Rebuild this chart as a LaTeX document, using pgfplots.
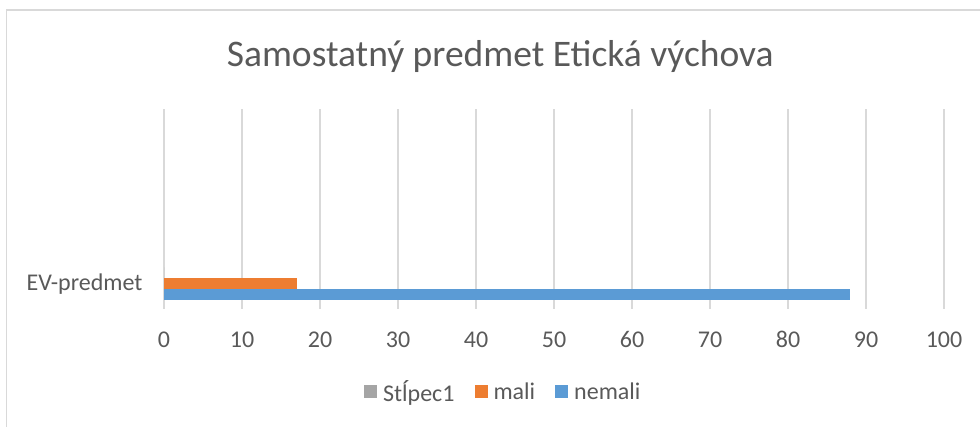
\documentclass[border=0pt]{standalone}
\usepackage{fontspec}
\setmainfont{Carlito}
\usepackage{pgfplots}
\pgfplotsset{compat=1.18}
\definecolor{txt}{RGB}{89,89,89}
\definecolor{gridc}{RGB}{217,217,217}
\definecolor{colgray}{RGB}{165,165,165}
\definecolor{colorange}{RGB}{237,125,49}
\definecolor{colblue}{RGB}{91,155,213}
\begin{document}
\begin{tikzpicture}[x=1pt,y=1pt]
\useasboundingbox (-164,-118) rectangle (816,309);
\begin{axis}[
  at={(0,0)}, anchor=south west,
  scale only axis, width=780pt, height=200pt,
  xbar, bar width=0.22,
  xmin=0, xmax=100, ymin=-0.5, ymax=3.5,
  xtick={0,10,...,100}, ytick={0}, yticklabels={EV-predmet},
  axis line style={draw=none}, major tick length=0pt,
  xmajorgrids, grid style={gridc, line width=1.3pt},
  /pgf/number format/assume math mode=true,
  tick label style={text=txt, font=\fontsize{24}{28}\selectfont},
  xticklabel style={yshift=-19pt},
  yticklabel style={xshift=-18pt},
  legend style={draw=none, fill=none, at={(0.435,-0.415)}, anchor=center,
    legend columns=3, text=txt, font=\fontsize{24}{28}\selectfont,
    /tikz/every odd column/.append style={column sep=4pt},
    /tikz/every even column/.append style={column sep=18pt}},
  legend image code/.code={\fill[#1] (0pt,-6.5pt) rectangle (13pt,6.5pt);},
  clip=false
]
\addplot[fill=colgray, draw=none, bar shift=0.22] coordinates {(0,0)};
\addplot[fill=colorange, draw=none, bar shift=0] coordinates {(17,0)};
\addplot[fill=colblue, draw=none, bar shift=-0.22] coordinates {(88,0)};
\legend{Stĺpec1,mali,nemali}
\node[text=txt, font=\fontsize{37.5}{44}\selectfont] at (rel axis cs:0.431,1.26) {Samostatný predmet Etická výchova};
\end{axis}
\draw[gridc, line width=1.3pt] (-157.5,-130) -- (-157.5,299) -- (830,299);
\end{tikzpicture}
\end{document}
